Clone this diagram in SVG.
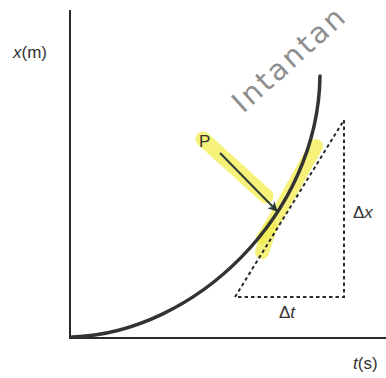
<svg xmlns="http://www.w3.org/2000/svg" width="386" height="378" viewBox="0 0 386 378">
<defs>
<style>
.lbl{font-family:"Liberation Sans",Arial,sans-serif;font-size:17px;fill:#333}
.axis{stroke:#2a2a2a;stroke-width:2;fill:none}
.dash{stroke:#2a2a2a;stroke-width:2;fill:none;stroke-dasharray:3.5,3}
.hl{stroke:#f2ec4c;stroke-opacity:0.75;fill:none;stroke-linecap:round;stroke-linejoin:round}
</style>
<marker id="ah" viewBox="0 0 10 10" refX="9" refY="5" markerWidth="5" markerHeight="5" orient="auto">
<path d="M0,0 L10,5 L0,10 L3,5 Z" fill="#2b3a36"/>
</marker>
</defs>
<rect width="386" height="378" fill="#fff"/>
<g id="highlight">
<path class="hl" stroke-width="15" d="M203,139 L266,196"/>
<path class="hl" stroke-width="14" d="M316,146 L270,228 L262,252"/>
<path class="hl" stroke-width="12" d="M262,238 L270,226"/>
</g>
<g id="axes">
<line class="axis" x1="70" y1="10" x2="70" y2="339"/>
<line class="axis" x1="69" y1="338" x2="386" y2="338"/>
</g>
<g id="curve">
<path d="M72,337 C195,333 318,215 320,76" fill="none" stroke="#333" stroke-width="3.5" stroke-linecap="round"/>
</g>
<g id="triangle">
<path class="dash" d="M344,120 L344,297 L235,297 Z"/>
</g>
<g id="connectors">
<line x1="220" y1="153" x2="277" y2="211" stroke="#2b3a36" stroke-width="2" marker-end="url(#ah)"/>
</g>
<g id="labels">
<text class="lbl" x="13" y="58"><tspan font-style="italic">x</tspan>(m)</text>
<text class="lbl" x="353" y="369"><tspan font-style="italic">t</tspan>(s)</text>
<text class="lbl" x="199" y="147">P</text>
<text class="lbl" x="353" y="218">Δ<tspan font-style="italic">x</tspan></text>
<text class="lbl" x="279" y="318">Δ<tspan font-style="italic">t</tspan></text>
</g>
<g id="handwriting">
<text transform="translate(243,114) rotate(-42)" font-family="'DejaVu Sans',sans-serif" font-size="29" fill="#8e8e8e" textLength="140" lengthAdjust="spacing">Intantan</text>
</g>
</svg>
